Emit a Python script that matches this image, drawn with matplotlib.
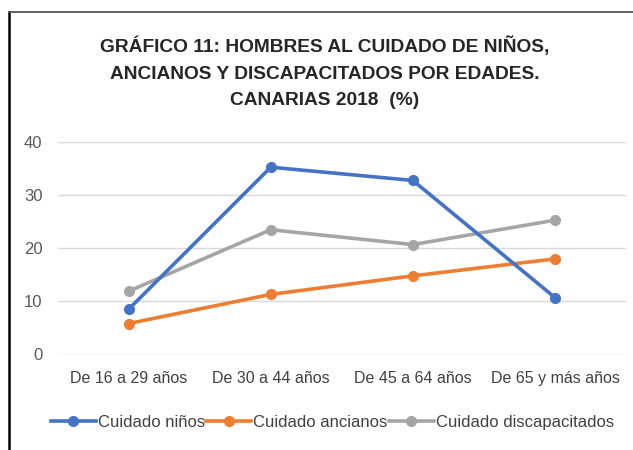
import matplotlib
matplotlib.use('Agg')
import matplotlib.pyplot as plt

# data
categories = ['De 16 a 29 años', 'De 30 a 44 años', 'De 45 a 64 años', 'De 65 y más años']
ninos = [8.5, 35.3, 32.8, 10.7]
ancianos = [5.8, 11.3, 14.8, 18.0]
discapacitados = [11.9, 23.5, 20.7, 25.3]
series_names = ['Cuidado niños', 'Cuidado ancianos', 'Cuidado discapacitados']
title = 'GRÁFICO 11: HOMBRES AL CUIDADO DE NIÑOS,\nANCIANOS Y DISCAPACITADOS POR EDADES.\nCANARIAS 2018  (%)'

plt.rcParams['font.family'] = ['Liberation Sans', 'DejaVu Sans']

fig = plt.figure(figsize=(6.33, 4.5), dpi=100)
ax = fig.add_axes([0.091, 0.2127, 0.898, 0.4711])

colors = ['#4472C4', '#ED7D31', '#A5A5A5']
x = range(len(categories))
for vals, name, c, z in [(ninos, series_names[0], colors[0], 3),
                         (ancianos, series_names[1], colors[1], 2),
                         (discapacitados, series_names[2], colors[2], 1)]:
    ax.plot(x, vals, color=c, lw=2.6, marker='o', markersize=7, label=name, zorder=z)

ax.set_xlim(-0.5, 3.5)
ax.set_ylim(0, 40)
ax.set_yticks([0, 10, 20, 30, 40])
ax.set_xticks(list(x))
ax.set_xticklabels(categories)
ax.grid(axis='y', color='#D9D9D9', lw=1)
ax.set_axisbelow(True)
for s in ax.spines.values():
    s.set_visible(False)
ax.tick_params(axis='both', length=0, colors='#404040')
ax.tick_params(axis='y', pad=11, labelsize=12, colors='#595959')
ax.tick_params(axis='x', pad=12, labelsize=11.5)

fig.text(0.513, 0.838, title, ha='center', va='center', fontsize=13.8, fontweight='bold',
         color='#262626', linespacing=1.72)

leg = fig.legend(loc='center', bbox_to_anchor=(0.525, 0.062), ncol=3, frameon=False,
                 fontsize=12, handlelength=2.7, handletextpad=0.1, columnspacing=0.1,
                 labelcolor='#404040')

# outer frame: dark left edge, gray top edge
fig.add_artist(plt.Line2D([0.0135, 0.0135], [0, 0.974], color='black', lw=1.8,
                          transform=fig.transFigure))
fig.add_artist(plt.Line2D([0.0135, 1.0], [0.974, 0.974], color='#555555', lw=1.3,
                          transform=fig.transFigure))

fig.savefig('out.png', dpi=100)
